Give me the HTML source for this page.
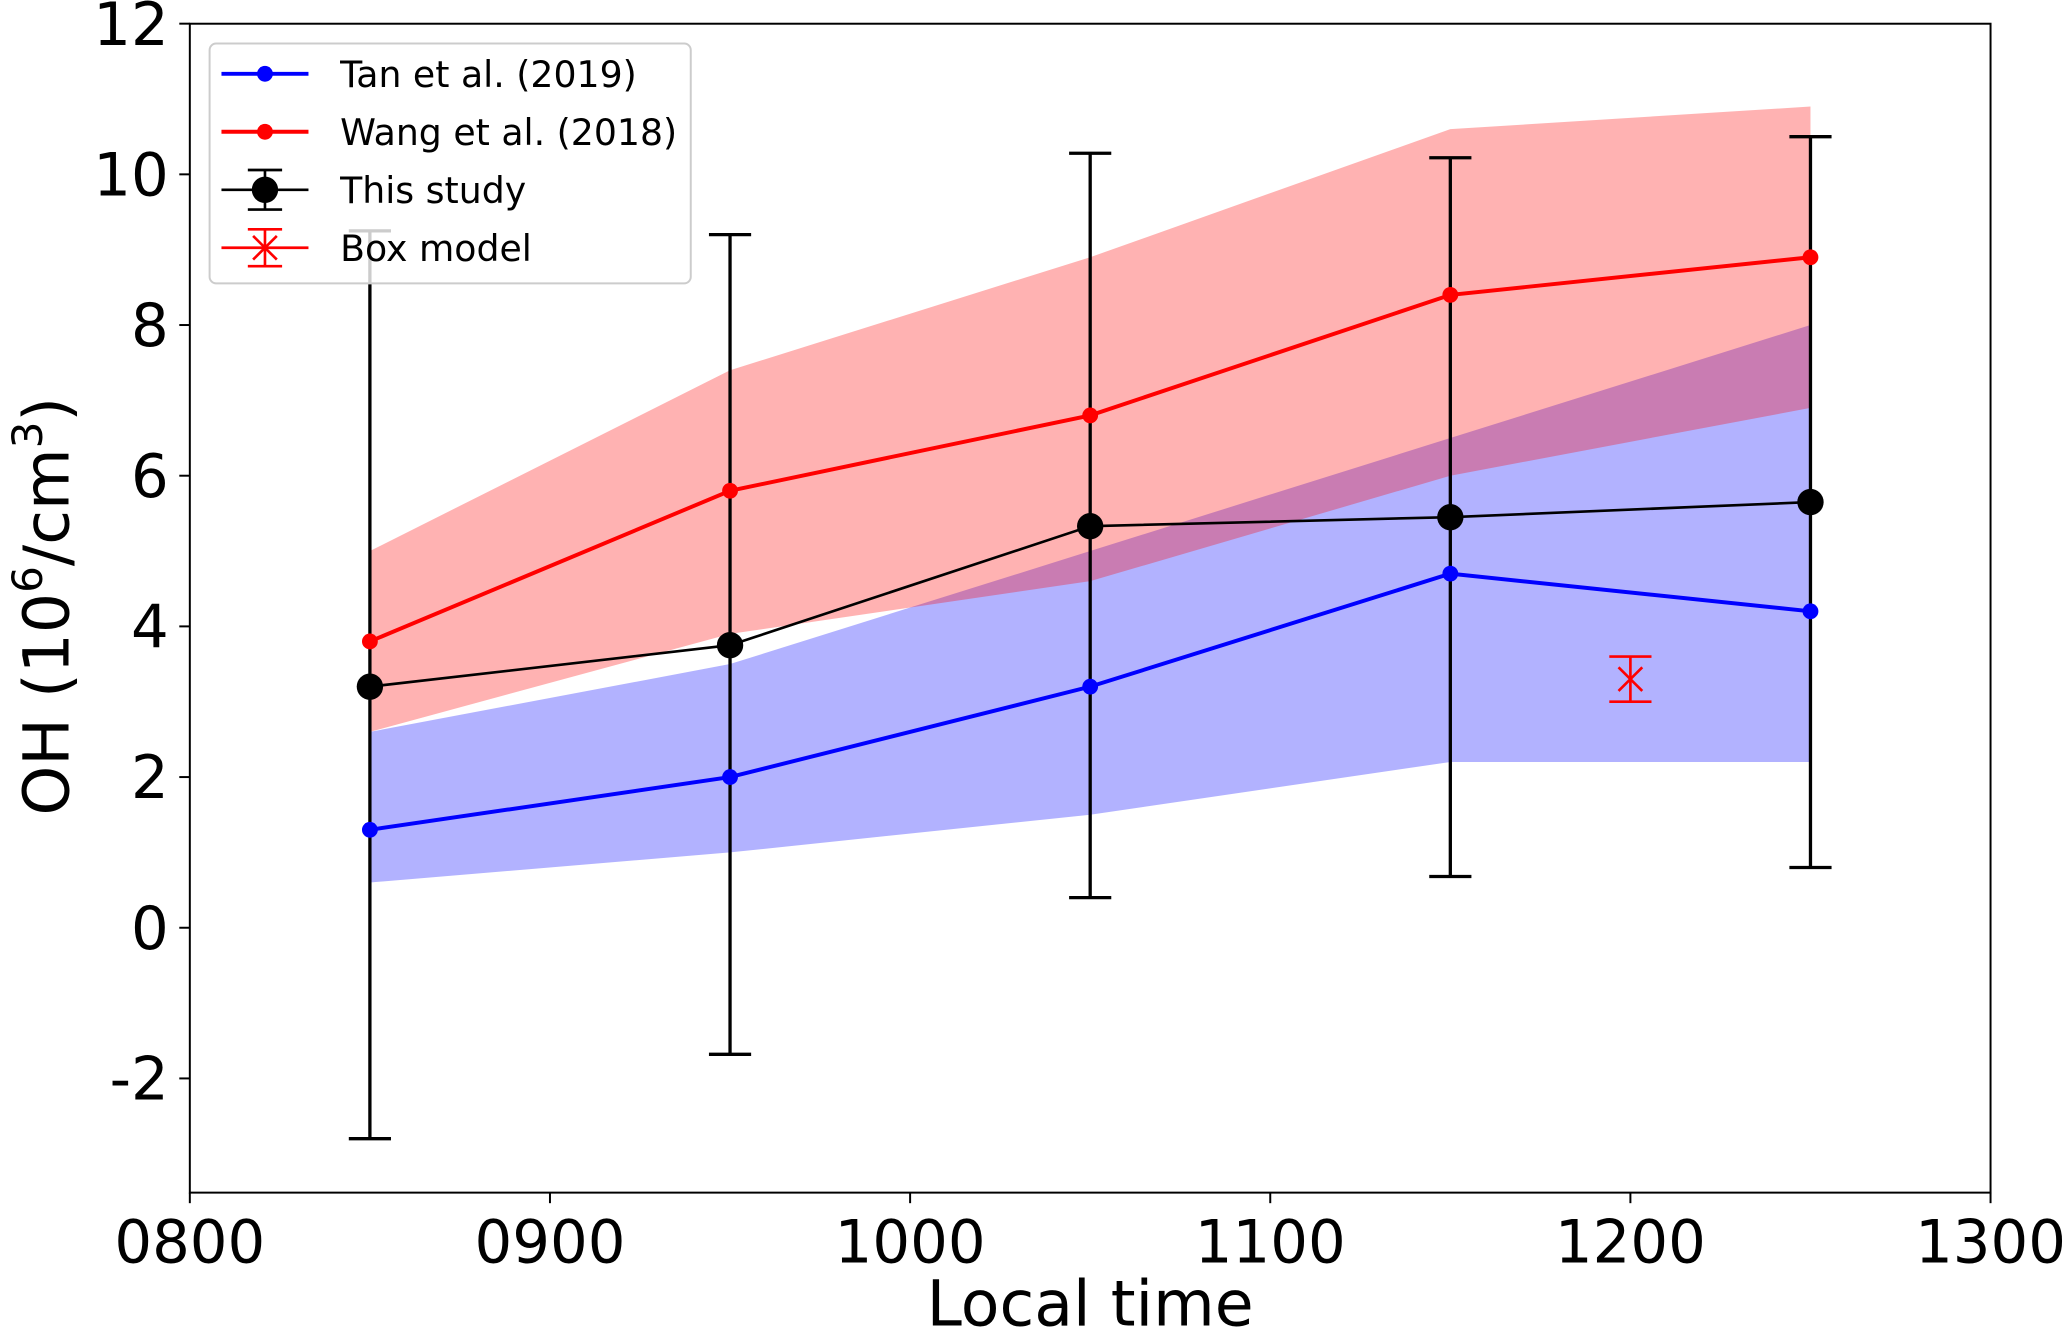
<!DOCTYPE html>
<html><head><meta charset="utf-8"><style>
html,body{margin:0;padding:0;background:#fff;}
svg{display:block;font-family:"DejaVu Sans","Liberation Sans",sans-serif;}
</style></head><body>
<svg id="chart" width="2067" height="1331" viewBox="0 0 1568 1010" preserveAspectRatio="none" xmlns="http://www.w3.org/2000/svg">
<g id="bands"></g>
<g id="lines"></g>
<rect x="144" y="18" width="1366" height="887" fill="none" stroke="#000" stroke-width="1.5"/>
<g id="axes" font-size="45"></g>
<text x="827" y="1006" font-size="48" text-anchor="middle">Local time</text>
<text transform="translate(52,460) rotate(-90)" font-size="48" text-anchor="middle">OH (10<tspan font-size="32" dy="-20">6</tspan><tspan dy="20">/cm</tspan><tspan font-size="32" dy="-20">3</tspan><tspan dy="20">)</tspan></text>
<g>
<rect x="159" y="33" width="365" height="182" rx="5" fill="#fff" fill-opacity="0.8" stroke="#ccc" stroke-width="1.5"/>
<g><line x1="168" y1="56" x2="234" y2="56" stroke="#00f" stroke-width="3"/><circle cx="201" cy="56" r="6" fill="#00f"/><text x="258" y="66" font-size="27.5">Tan et al. (2019)</text></g>
<g><line x1="168" y1="100" x2="234" y2="100" stroke="#f00" stroke-width="3"/><circle cx="201" cy="100" r="6" fill="#f00"/><text x="258" y="110" font-size="27.5">Wang et al. (2018)</text></g>
<g><line x1="168" y1="144" x2="234" y2="144" stroke="#000" stroke-width="2"/><line x1="201" y1="129" x2="201" y2="159" stroke="#000" stroke-width="2"/><line x1="188" y1="129" x2="214" y2="129" stroke="#000" stroke-width="2"/><line x1="188" y1="159" x2="214" y2="159" stroke="#000" stroke-width="2"/><circle cx="201" cy="144" r="10" fill="#000"/><text x="258" y="154" font-size="27.5">This study</text></g>
<g stroke="#f00" stroke-width="2"><line x1="168" y1="188" x2="234" y2="188"/><line x1="201" y1="174" x2="201" y2="202"/><line x1="188" y1="174" x2="214" y2="174"/><line x1="188" y1="202" x2="214" y2="202"/><line x1="192" y1="179" x2="210" y2="197"/><line x1="210" y1="179" x2="192" y2="197"/><text x="258" y="198" font-size="27.5" fill="#000" stroke="none">Box model</text></g>
</g>
</svg>
<script>
const times=[8.5,9.5,10.5,11.5,12.5];
const tanVals=[1.3,2.0,3.2,4.7,4.2];
const tanLow=[0.6,1.0,1.5,2.2,2.2];
const tanHigh=[2.6,3.5,5.0,6.5,8.0];
const wangVals=[3.8,5.8,6.8,8.4,8.9];
const wangLow=[2.6,3.9,4.6,6.0,6.9];
const wangHigh=[5.0,7.4,8.9,10.6,10.9];
const studyVals=[3.2,3.75,5.33,5.45,5.65];
const studyLow=[-2.8,-1.68,0.4,0.68,0.8];
const studyHigh=[9.25,9.2,10.28,10.22,10.5];
const boxTime=[12.0];
const boxVal=[3.3];
const boxLow=[3.0];
const boxHigh=[3.6];
const xTicks=[8,9,10,11,12,13];
const xTickLabels=["0800","0900","1000","1100","1200","1300"];
const yTicks=[-2,0,2,4,6,8,10,12];
const yTickLabels=["-2","0","2","4","6","8","10","12"];
const NS="http://www.w3.org/2000/svg";
const X=v=>144+(v-8)*(1366/5);
const Y=v=>704-v*57.17;
function mk(tag,attrs,parent){const e=document.createElementNS(NS,tag);for(const k in attrs)e.setAttribute(k,attrs[k]);parent.appendChild(e);return e;}
const bands=document.getElementById('bands'),lines=document.getElementById('lines'),axes=document.getElementById('axes');
function band(lo,hi,color,name){
  const pts=times.map((t,i)=>X(t)+','+Y(hi[i])).concat(times.map((t,i)=>X(t)+','+Y(lo[i])).reverse());
  const p=mk('polygon',{points:pts.join(' '),fill:color,'fill-opacity':0.3},bands);
  
  
}
band(tanLow,tanHigh,'#0000ff','tan-band');
band(wangLow,wangHigh,'#ff0000','wang-band');
function series(vals,color,w,r,name){
  const pl=mk('polyline',{points:times.map((t,i)=>X(t)+','+Y(vals[i])).join(' '),fill:'none',stroke:color,'stroke-width':w},lines);
  
  
  vals.forEach((v,i)=>{const c=mk('circle',{cx:X(times[i]),cy:Y(v),r:r,fill:color},lines);
    
    });
}
times.forEach((t,i)=>{
  const g=mk('g',{stroke:'#000','stroke-width':2.5},lines);
  
  
  mk('line',{x1:X(t),x2:X(t),y1:Y(studyLow[i]),y2:Y(studyHigh[i])},g);
  mk('line',{x1:X(t)-16,x2:X(t)+16,y1:Y(studyLow[i]),y2:Y(studyLow[i])},g);
  mk('line',{x1:X(t)-16,x2:X(t)+16,y1:Y(studyHigh[i]),y2:Y(studyHigh[i])},g);
});
series(tanVals,'#0000ff',3,6,'tan');
series(wangVals,'#ff0000',3,6,'wang');
series(studyVals,'#000000',2,10,'study');
boxTime.forEach((t,i)=>{
  const g=mk('g',{stroke:'#f00','stroke-width':2},lines);
  
  
  const x=X(t),y=Y(boxVal[i]);
  mk('line',{x1:x,x2:x,y1:Y(boxLow[i]),y2:Y(boxHigh[i])},g);
  mk('line',{x1:x-16,x2:x+16,y1:Y(boxLow[i]),y2:Y(boxLow[i])},g);
  mk('line',{x1:x-16,x2:x+16,y1:Y(boxHigh[i]),y2:Y(boxHigh[i])},g);
  mk('line',{x1:x-9,x2:x+9,y1:y-9,y2:y+9},g);
  mk('line',{x1:x+9,x2:x-9,y1:y-9,y2:y+9},g);
});
xTicks.forEach((v,i)=>{
  const l=mk('line',{x1:X(v),x2:X(v),y1:905,y2:913,stroke:'#000','stroke-width':1.5},axes);
  
  
  const t=mk('text',{x:X(v),y:958,'text-anchor':'middle'},axes);t.textContent=xTickLabels[i];
  
  
});
yTicks.forEach((v,i)=>{
  const l=mk('line',{x1:136,x2:144,y1:Y(v),y2:Y(v),stroke:'#000','stroke-width':1.5},axes);
  
  
  const t=mk('text',{x:128,y:Y(v)+16,'text-anchor':'end'},axes);t.textContent=yTickLabels[i];
  
  
});
</script>
</body></html>
